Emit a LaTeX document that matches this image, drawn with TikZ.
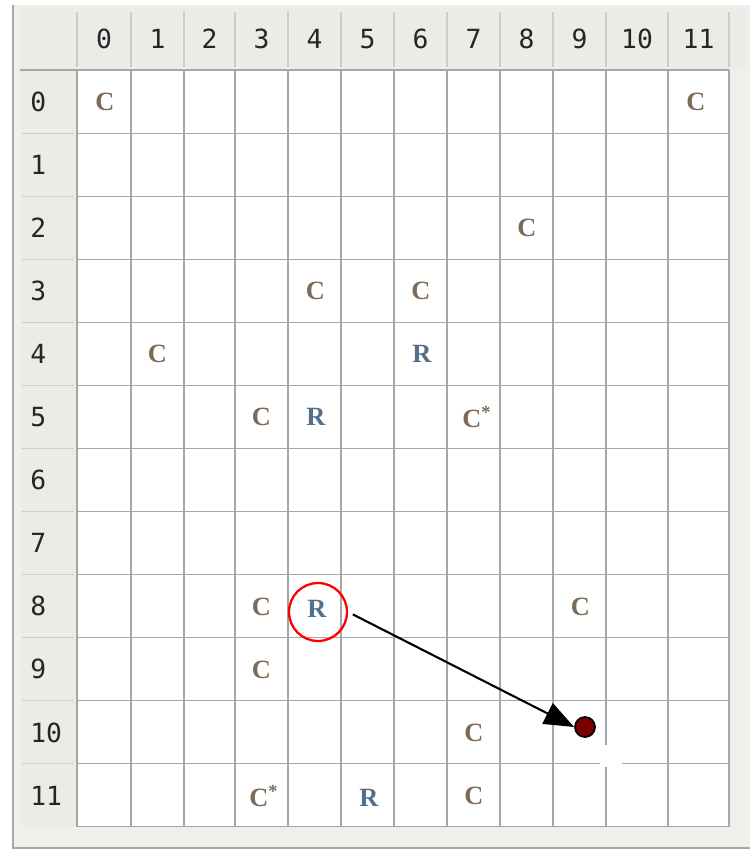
\documentclass[tikz,border=0pt]{standalone}
\usepackage{fontspec}
\setmainfont{Liberation Serif}
\newfontfamily\hdrfont{DejaVu Sans Mono}
\usepackage{xcolor}
\usetikzlibrary{arrows.meta, positioning, calc}
\definecolor{cbrown}{HTML}{7D6A57}
\definecolor{rslate}{HTML}{52708C}
\definecolor{framebg}{HTML}{F1EFEC}
\definecolor{hdrbg}{HTML}{EDEBE7}
\definecolor{gridgray}{HTML}{A6A6A6}
\definecolor{sepgray}{HTML}{CFCBC6}
\definecolor{dotred}{HTML}{7A0000}

\begin{document}
\begin{tikzpicture}[
		x=0.02cm, y=-0.02cm,
		hdr/.style={font=\hdrfont\fontsize{15}{15}\selectfont, text=black!85, inner sep=0pt},
		cl/.style={font=\fontsize{15}{15}\selectfont\bfseries, text=cbrown, inner sep=1pt},
		rl/.style={font=\fontsize{15}{15}\selectfont\bfseries, text=rslate, inner sep=1pt},
		gridline/.style={draw=gridgray, line width=0.6pt},
		sep/.style={draw=sepgray, line width=0.6pt},
		ring/.style={circle, draw=red, line width=1.3pt, minimum size=1.16cm, inner sep=0pt},
		dot/.style={circle, draw=black, fill=dotred, line width=1pt, minimum size=0.4cm, inner sep=0pt},
		arr/.style={-{Triangle[length=17pt, width=13pt]}, line width=1.2pt, shorten <=3pt}
		]
		\useasboundingbox (0,0) rectangle (750,854);
		
		% Frame and header background
		\fill[white] (0,0) rectangle (750,854);
		\fill[framebg] (13,5) rectangle (750,848);
		\draw[draw=gridgray, line width=0.8pt] (13,5) -- (13,848) -- (750,848);
		\fill[hdrbg] (20,8) rectangle (745,70);
		\fill[hdrbg] (20,70) rectangle (77,827);
		\fill[white] (77,70) rectangle (729,827);
		
		% Header separators
		\foreach \gx in {77,131,184,235,288,341,394,447,500,553,606,668,729}
		\draw[sep] (\gx,12) -- (\gx,67);
		\foreach \k in {1,...,11}
		\draw[sep] (22,70+63.08*\k) -- (74,70+63.08*\k);
		\draw[gridline] (20,70) -- (77,70);
		
		% Grid
		\foreach \gx in {77,131,184,235,288,341,394,447,500,553,606,668,729}
		\draw[gridline] (\gx,70) -- (\gx,827);
		\foreach \k in {0,...,12}
		\draw[gridline] (77,70+63.08*\k) -- (729,70+63.08*\k);
		
		% Column headers
		\foreach \cx [count=\i from 0] in {104,157.5,209.5,261.5,314.5,367.5,420.5,473.5,526.5,579.5,637,698.5}
		\node[hdr] (col\i) at (\cx,39) {\i};
		
		% Row headers
		\foreach \i in {0,...,11}
		\node[hdr, anchor=west] (row\i) at (30,101.6+63.08*\i) {\i};
		
		% Cells
		\node[cl] (c0-0) at (105,101.6) {C};
		\node[cl] (c0-11) at (696,101.6) {C};
		\node[cl] (c2-8) at (527,227.8) {C};
		\node[cl] (c3-4) at (315.5,290.9) {C};
		\node[cl] (c3-6) at (421,290.9) {C};
		\node[cl] (c4-1) at (157.5,354) {C};
		\node[rl] (r4-6) at (422,354) {R};
		\node[cl] (c5-3) at (261.5,417) {C};
		\node[rl] (r5-4) at (316,417) {R};
		\node[cl] (c5-7) at (477,417) {C\textsuperscript{*}};
		\node[cl] (c8-3) at (261.5,607) {C};
		\node[rl] (r8-4) at (317,609) {R};
		\node[cl] (c8-9) at (580.5,607) {C};
		\node[cl] (c9-3) at (261.5,670) {C};
		\node[cl] (c10-7) at (474,733) {C};
		\node[cl] (c11-3) at (264,796) {C\textsuperscript{*}};
		\node[rl] (r11-5) at (369,798) {R};
		\node[cl] (c11-7) at (474,796) {C};
		
		% Selected robot and its move
		\node[ring] (ring) at (318,612) {};
		\fill[white] (600,745) rectangle (622,767);
		\node[dot] (dot) at (585,727) {};
		\draw[arr] (ring.east) -- (dot.west);
		
	\end{tikzpicture}
\end{document}
